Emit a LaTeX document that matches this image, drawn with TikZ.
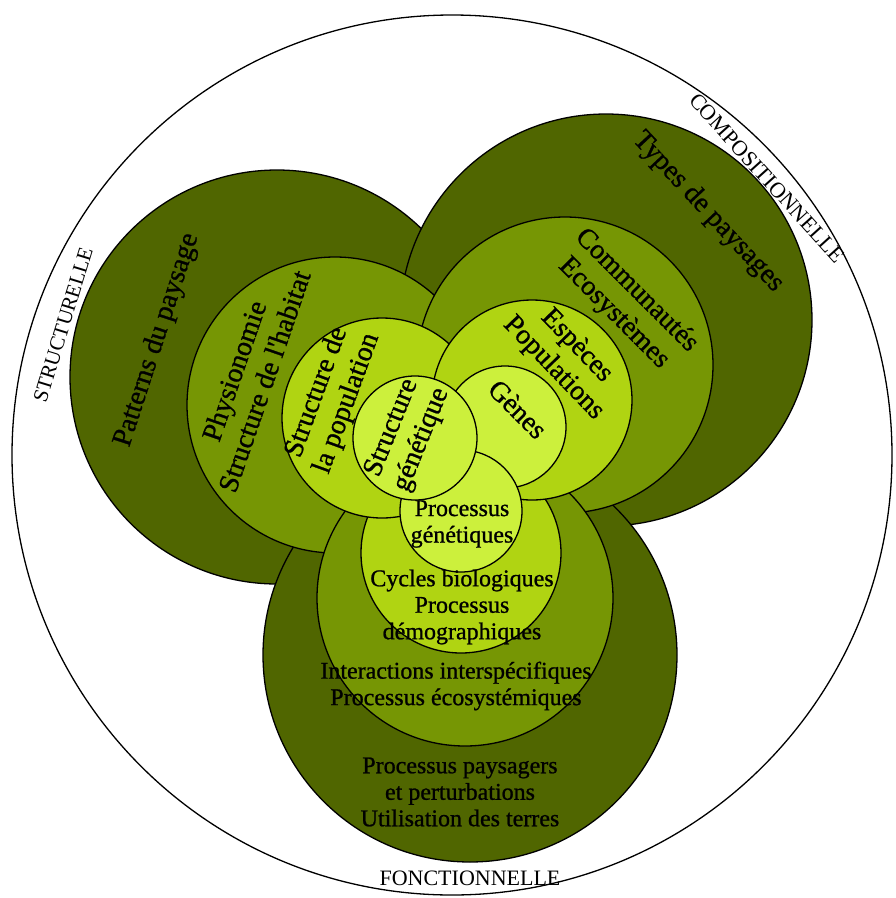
\documentclass[tikz,border=0pt]{standalone}
\usepackage{fontspec}
\setmainfont{Liberation Serif}
\newfontfamily\heavyfont[FakeBold=0.9]{Liberation Serif}
\definecolor{cA}{RGB}{80,102,0}
\definecolor{cB}{RGB}{118,150,4}
\definecolor{cC}{RGB}{176,212,18}
\definecolor{cD}{RGB}{204,240,60}
\begin{document}
\begin{tikzpicture}[x=1pt,y=-1pt]
\tikzset{
  ring/.style={draw=black, line width=1.3pt},
  lvA/.style={ring, fill=cA},
  lvB/.style={ring, fill=cB},
  lvC/.style={ring, fill=cC},
  lvD/.style={ring, fill=cD},
  biglab/.style={font=\heavyfont\fontsize{28}{32}\selectfont, align=center, inner sep=0pt},
  funlab/.style={font=\heavyfont\fontsize{24}{26.5}\selectfont, align=center, inner sep=0pt},
  outlab/.style={font=\fontsize{22}{24}\selectfont, inner sep=0pt}
}
\useasboundingbox (0,0) rectangle (896,898);
% outer circle
\coordinate (cO) at (452,455);
\draw[ring] (cO) circle (440pt);
% centres
\coordinate (S1) at (277,377);
\coordinate (S2) at (335,405);
\coordinate (S3) at (382,418);
\coordinate (S4) at (415,438);
\coordinate (C1) at (606,320);
\coordinate (C2) at (565,365);
\coordinate (C3) at (532,400);
\coordinate (C4) at (505,427);
\coordinate (F1) at (470,655);
\coordinate (F2) at (465,598);
\coordinate (F3) at (461,553);
\coordinate (F4) at (461,511);
% level 1
\filldraw[lvA] (S1) circle (207pt);
\filldraw[lvA] (C1) circle (206pt);
\filldraw[lvA] (F1) circle (207pt);
% level 2
\filldraw[lvB] (S2) circle (148pt);
\filldraw[lvB] (C2) circle (148pt);
\filldraw[lvB] (F2) circle (148pt);
% level 3
\filldraw[lvC] (F3) circle (100pt);
\filldraw[lvC] (S3) circle (100pt);
\filldraw[lvC] (C3) circle (100pt);
% level 4
\filldraw[lvD] (C4) circle (61pt);
\filldraw[lvD] (F4) circle (61pt);
\filldraw[lvD] (S4) circle (62pt);
% structural labels
\node[biglab, rotate=72] (patt) at (157,340) {Patterns du paysage};
\node[biglab, rotate=71] (phys) at (249,376) {Physionomie\\Structure de l'habitat};
\node[biglab, rotate=70] (spop) at (332,398) {Structure de\\la population};
\node[biglab, rotate=68] (sgen) at (407,434) {Structure\\génétique};
% compositional labels
\node[biglab, rotate=-47] (types) at (708,212) {Types de paysages};
\node[biglab, rotate=-45] (comm) at (625,302) {Communautés\\Ecosystèmes};
\node[biglab, rotate=-46] (esp) at (565,357) {Espèces\\Populations};
\node[biglab, rotate=-45] (genes) at (518,409) {Gènes};
% functional labels
\node[funlab] (pgen) at (462,524) {Processus\\génétiques};
\node[funlab] (cyc) at (462,607) {Cycles biologiques\\Processus\\démographiques};
\node[funlab] (inter) at (456,686) {Interactions interspécifiques\\Processus écosystémiques};
\node[funlab] (pays) at (460,792) {Processus paysagers\\et perturbations\\Utilisation des terres};
% outer labels
\node[outlab, font=\fontsize{21}{23}\selectfont, rotate=73] (lstruct) at (63,325) {STRUCTURELLE};
\node[outlab, rotate=-48] (lcomp) at (767,178) {COMPOSITIONNELLE};
\node[outlab] (lfonc) at (470,878) {FONCTIONNELLE};
\end{tikzpicture}
\end{document}
